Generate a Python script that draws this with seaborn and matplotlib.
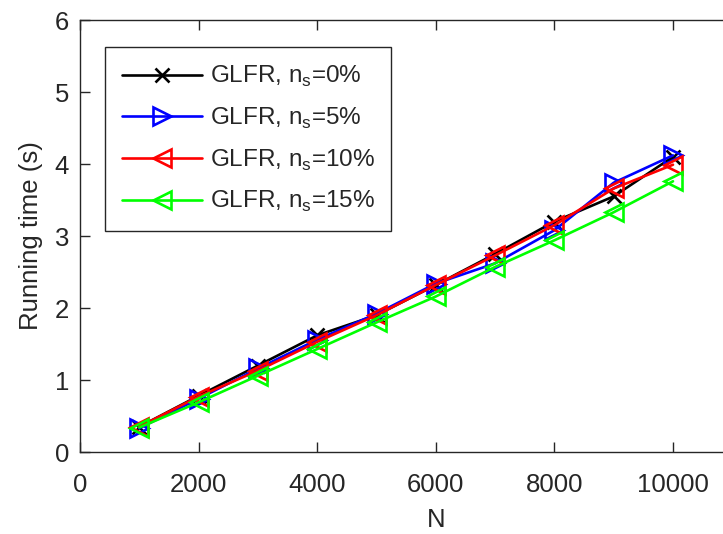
import matplotlib
matplotlib.use("Agg")
import matplotlib.pyplot as plt
import seaborn as sns
import numpy as np

sns.set_style("ticks")
plt.rcParams['font.family'] = ['Liberation Sans', 'DejaVu Sans']
plt.rcParams['mathtext.fontset'] = 'custom'
plt.rcParams['mathtext.rm'] = 'Liberation Sans'

N = [1000, 2000, 3000, 4000, 5000, 6000, 7000, 8000, 9000, 10000]
t_ns0 = [0.35, 0.78, 1.20, 1.62, 1.90, 2.32, 2.75, 3.20, 3.55, 4.10]
t_ns5 = [0.33, 0.74, 1.16, 1.56, 1.92, 2.34, 2.62, 3.08, 3.74, 4.12]
t_ns10 = [0.35, 0.77, 1.13, 1.53, 1.90, 2.32, 2.73, 3.15, 3.66, 3.99]
t_ns15 = [0.34, 0.69, 1.06, 1.43, 1.80, 2.16, 2.57, 2.94, 3.33, 3.76]
labels = ['GLFR, n$_\\mathrm{s}$=0%', 'GLFR, n$_\\mathrm{s}$=5%',
          'GLFR, n$_\\mathrm{s}$=10%', 'GLFR, n$_\\mathrm{s}$=15%']
xticks = [0, 2000, 4000, 6000, 8000, 10000]
yticks = [0, 1, 2, 3, 4, 5, 6]

fig = plt.figure(figsize=(7.23, 5.34), dpi=100)
ax = fig.add_axes([80/723, 82/534, 711.6/723, 432/534])

series = [
    (t_ns0, '#000000', 'x', 10, labels[0]),
    (t_ns5, '#0000ff', '>', 13, labels[1]),
    (t_ns10, '#ff0000', '<', 13, labels[2]),
    (t_ns15, '#00ff00', '<', 13, labels[3]),
]
for ys, col, mk, ms, lab in series:
    sns.lineplot(x=N, y=ys, ax=ax, color=col, marker=mk, markersize=ms,
                 markerfacecolor='none', markeredgecolor=col,
                 markeredgewidth=1.9, linewidth=1.9, label=lab,
                 clip_on=False)

ax.set_xlim(0, 12000)
ax.set_ylim(0, 6)
ax.set_xticks(xticks)
ax.set_yticks(yticks)
ax.tick_params(direction='in', length=7, width=1, colors='#262626',
               labelsize=18.5, top=True, right=False)
ax.tick_params(axis='x', pad=15)
ax.tick_params(axis='y', pad=8)
for s in ['left', 'bottom', 'top']:
    ax.spines[s].set_color('#262626')
    ax.spines[s].set_linewidth(1)
ax.spines['right'].set_visible(False)
ax.set_xlabel('N', fontsize=18.5, color='#262626', labelpad=8)
ax.set_ylabel('Running time (s)', fontsize=18.5, color='#262626', labelpad=8)

leg = ax.legend(loc='upper left', bbox_to_anchor=(105/723, 1 - 47/534),
                bbox_transform=fig.transFigure, borderaxespad=0,
                fontsize=17.5, frameon=True, fancybox=False,
                edgecolor='#262626', framealpha=1, handlelength=3.3,
                labelspacing=0.68, handletextpad=0.3, borderpad=0.7)
leg.get_frame().set_linewidth(1)

fig.savefig('out.png', dpi=100)
